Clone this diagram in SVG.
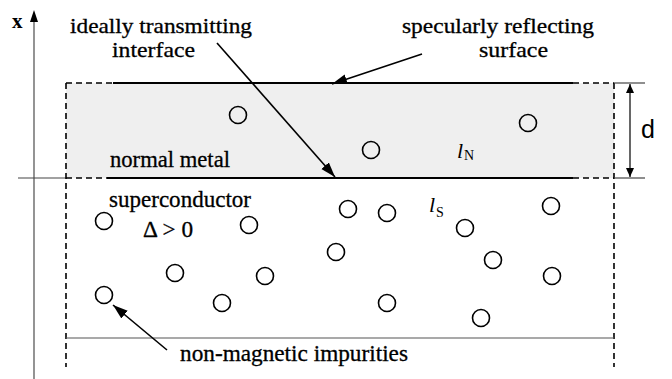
<svg xmlns="http://www.w3.org/2000/svg" width="672" height="379" viewBox="0 0 672 379">
<style>
.t{font-family:"Liberation Serif","Times New Roman",serif;font-size:23px;fill:#000;stroke:#000;stroke-width:0.3}
.t2{font-family:"Liberation Serif","Times New Roman",serif;font-size:21px;fill:#000;stroke:#000;stroke-width:0.3}
.it{font-family:"Liberation Serif","Times New Roman",serif;font-size:22px;font-style:italic;fill:#000}
.sub{font-family:"Liberation Serif","Times New Roman",serif;font-size:14px;fill:#000}
.imp{fill:none;stroke:#000;stroke-width:1.6}
.dash{stroke:#000;stroke-width:1.6;stroke-dasharray:6 4;fill:none}
.solid{stroke:#000;stroke-width:1.8;fill:none}
.arr{stroke:#000;stroke-width:1.6;fill:none;marker-end:url(#ah)}
</style>
<defs>
<marker id="ah" markerUnits="userSpaceOnUse" markerWidth="16" markerHeight="12" refX="15" refY="5" orient="auto">
<path d="M0,0 L15,5 L0,10 Z" fill="#000"/>
</marker>
<marker id="sh" markerUnits="userSpaceOnUse" markerWidth="10" markerHeight="10" refX="9" refY="4" orient="auto-start-reverse">
<path d="M0,0 L9,4 L0,8 Z" fill="#000"/>
</marker>
</defs>
<g id="axis">
<line x1="34" y1="379" x2="34" y2="20" stroke="#666" stroke-width="1.4"/>
<path d="M34,10 L30,22 L38,22 Z" fill="#000"/>
<line x1="18" y1="178" x2="66" y2="178" stroke="#444" stroke-width="1.2"/>
<text x="12" y="28" style="font-family:'Liberation Serif',serif;font-size:21px;font-weight:bold">x</text>
</g>
<g id="normal-metal">
<rect x="66" y="83" width="548" height="95" fill="#efefef"/>
<text class="t" x="110" y="167" textLength="120" lengthAdjust="spacingAndGlyphs">normal metal</text>
<text class="it" x="457" y="158">l</text>
<text class="sub" x="464" y="160">N</text>
</g>
<g id="boundaries">
<line class="solid" x1="113" y1="83" x2="573" y2="83"/>
<line class="dash" x1="66" y1="83" x2="113" y2="83"/>
<line class="dash" x1="573" y1="83" x2="614" y2="83"/>
<line class="solid" x1="107" y1="178" x2="573" y2="178"/>
<line class="dash" x1="66" y1="178" x2="107" y2="178"/>
<line class="dash" x1="573" y1="178" x2="614" y2="178"/>
<line class="dash" x1="66" y1="83" x2="66" y2="367"/>
<line class="dash" x1="614" y1="83" x2="614" y2="367"/>
<line x1="66" y1="338" x2="614" y2="338" stroke="#555" stroke-width="1.2"/>
</g>
<g id="thickness">
<line x1="614" y1="83" x2="645" y2="83" stroke="#444" stroke-width="1.2"/>
<line x1="614" y1="178" x2="645" y2="178" stroke="#444" stroke-width="1.2"/>
<line x1="630" y1="84" x2="630" y2="177" stroke="#000" stroke-width="1.2" marker-start="url(#sh)" marker-end="url(#sh)"/>
<text x="641" y="138" style="font-family:'Liberation Sans',Arial,sans-serif;font-size:25px">d</text>
</g>
<g id="superconductor">
<text class="t" x="109" y="207" textLength="142" lengthAdjust="spacingAndGlyphs">superconductor</text>
<text class="t" x="143" y="237" textLength="50" lengthAdjust="spacingAndGlyphs">Δ &gt; 0</text>
<text class="it" x="429" y="212">l</text>
<text class="sub" x="436" y="217">S</text>
</g>
<g id="impurities">
<circle class="imp" cx="238" cy="115" r="8.5"/>
<circle class="imp" cx="371" cy="150" r="8.5"/>
<circle class="imp" cx="528" cy="123" r="8.5"/>
<circle class="imp" cx="104" cy="221" r="8.5"/>
<circle class="imp" cx="249" cy="225" r="8.5"/>
<circle class="imp" cx="348" cy="209" r="8.5"/>
<circle class="imp" cx="387" cy="213" r="8.5"/>
<circle class="imp" cx="336" cy="252" r="8.5"/>
<circle class="imp" cx="465" cy="228" r="8.5"/>
<circle class="imp" cx="551" cy="206" r="8.5"/>
<circle class="imp" cx="493" cy="260" r="8.5"/>
<circle class="imp" cx="552" cy="276" r="8.5"/>
<circle class="imp" cx="175" cy="273" r="8.5"/>
<circle class="imp" cx="265" cy="276" r="8.5"/>
<circle class="imp" cx="104" cy="295" r="8.5"/>
<circle class="imp" cx="222" cy="303" r="8.5"/>
<circle class="imp" cx="387" cy="303" r="8.5"/>
<circle class="imp" cx="481" cy="318" r="8.5"/>
</g>
<g id="label-interface">
<text class="t2" x="70" y="33" textLength="182" lengthAdjust="spacingAndGlyphs">ideally transmitting</text>
<text class="t2" x="112" y="57" textLength="83" lengthAdjust="spacingAndGlyphs">interface</text>
</g>
<g id="label-surface">
<text class="t2" x="402" y="33" textLength="192" lengthAdjust="spacingAndGlyphs">specularly reflecting</text>
<text class="t2" x="479" y="57" textLength="69" lengthAdjust="spacingAndGlyphs">surface</text>
</g>
<g id="label-impurities">
<text class="t" x="180" y="361" textLength="228" lengthAdjust="spacingAndGlyphs">non-magnetic impurities</text>
</g>
<g id="connectors">
<line class="arr" x1="217" y1="43" x2="335" y2="177"/>
<line class="arr" x1="422" y1="54" x2="332" y2="84"/>
<line class="arr" x1="167" y1="350" x2="113" y2="305"/>
</g>
</svg>
